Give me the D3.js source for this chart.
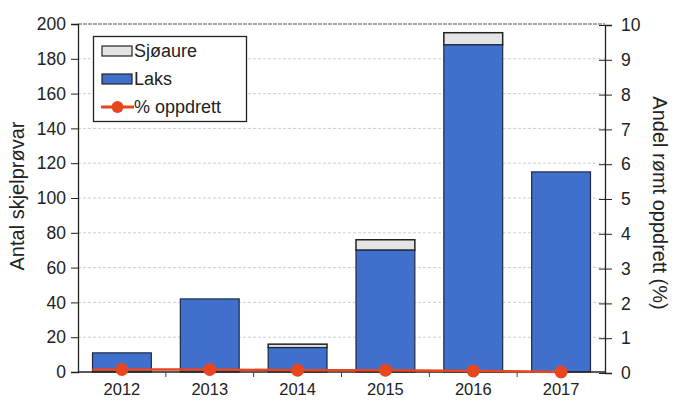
<!DOCTYPE html>
<html><head><meta charset="utf-8">
<script src="https://cdn.jsdelivr.net/npm/d3@7"></script>
<style>body{margin:0;background:#fff}svg{display:block;font-family:"Liberation Sans",Arial,sans-serif}</style>
</head><body><svg id="c" width="674" height="401"></svg>
<script>
const years = ["2012","2013","2014","2015","2016","2017"];
const laks = [11, 42, 14, 70, 188, 115];
const sjoaure = [0, 0, 2, 6, 7, 0];
const oppdrett = [0.1, 0.1, 0.08, 0.08, 0.06, 0.03];
const leftTicks = [0,20,40,60,80,100,120,140,160,180,200];
const rightTicks = [0,1,2,3,4,5,6,7,8,9,10];

const svg = d3.select("#c");
const m = {l:78, r:605, t:24, b:372};
const x = d3.scaleBand().domain(years).range([m.l, m.r]).paddingInner(0.33).paddingOuter(0.165);
const y = d3.scaleLinear().domain([0,200]).range([m.b, m.t]);
const y2 = d3.scaleLinear().domain([0,10]).range([m.b+1, m.t+1]);

// gridlines
svg.append("g").selectAll("line").data(leftTicks.filter(d=>d>0)).join("line")
  .attr("x1", m.l).attr("x2", m.r).attr("y1", d=>y(d)).attr("y2", d=>y(d))
  .attr("stroke", d=>d===200?"#555":"#cfcfcf").attr("stroke-width", 1)
  .attr("stroke-dasharray", d=>d===200?"4,1":"3,2");

// bars
const g = svg.append("g");
years.forEach((yr,i)=>{
  const total = laks[i] + sjoaure[i];
  if (sjoaure[i] > 0) {
    g.append("rect").attr("x", x(yr)).attr("width", x.bandwidth())
      .attr("y", y(total)).attr("height", y(laks[i]) - y(total))
      .attr("fill", "#e4e4e4").attr("stroke", "#222").attr("stroke-width", 1.5);
  }
  g.append("rect").attr("x", x(yr)).attr("width", x.bandwidth())
    .attr("y", y(laks[i])).attr("height", y(0) - y(laks[i]))
    .attr("fill", "#4070cc").attr("stroke", "#1f2a44").attr("stroke-width", 1.2);
});

// left axis
const la = svg.append("g").attr("transform", `translate(${m.l},0)`)
  .call(d3.axisLeft(y).tickValues(leftTicks).tickSize(7).tickPadding(5));
la.select(".domain").attr("stroke","#222").attr("stroke-width",1.3);
la.selectAll(".tick line").attr("stroke","#222");
la.selectAll("text").attr("font-size",17.5).attr("fill","#222").attr("font-family","Liberation Sans, Arial, sans-serif");

// right axis
const ra = svg.append("g").attr("transform", `translate(${m.r},0)`)
  .call(d3.axisRight(y2).tickValues(rightTicks).tickSize(7).tickPadding(9));
ra.select(".domain").attr("stroke","#222").attr("stroke-width",1.3);
ra.selectAll(".tick line").attr("stroke","#222").attr("x1",-6);
ra.selectAll("text").attr("font-size",17.5).attr("fill","#222").attr("font-family","Liberation Sans, Arial, sans-serif");

// bottom axis
const xb = svg.append("g").attr("transform", `translate(0,${m.b})`);
xb.append("line").attr("x1", m.l).attr("x2", m.r).attr("stroke","#222").attr("stroke-width",1.3);
years.slice(1).forEach(yr=>{
  const bx = x(yr) - x.step()*x.paddingInner()/2;
  xb.append("line").attr("x1",bx).attr("x2",bx).attr("y1",0).attr("y2",5).attr("stroke","#444");
});
xb.selectAll("text.yl").data(years).join("text").attr("class","yl")
  .attr("x", d=>x(d)+x.bandwidth()/2).attr("y", 23).attr("text-anchor","middle")
  .attr("font-size",16.5).attr("fill","#222").text(d=>d);

// line series
const red = "#e8461e";
const pts = years.map((yr,i)=>[x(yr)+x.bandwidth()/2, y2(oppdrett[i])]);
const linePts = [[x(years[0]), y2(oppdrett[0])], ...pts];
svg.append("path").attr("d", d3.line()(linePts)).attr("fill","none").attr("stroke",red).attr("stroke-width",2.5);
svg.append("g").selectAll("circle").data(pts).join("circle")
  .attr("cx", d=>d[0]).attr("cy", d=>d[1]).attr("r", 6.5).attr("fill", red);

// axis titles
svg.append("text").attr("transform","translate(24,196) rotate(-90)").attr("text-anchor","middle")
  .attr("font-size",20).attr("fill","#222").text("Antal skjelprøvar");
svg.append("text").attr("transform","translate(653,203) rotate(90)").attr("text-anchor","middle")
  .attr("font-size",20).attr("fill","#222").text("Andel rømt oppdrett (%)");

// legend
const lg = svg.append("g");
lg.append("rect").attr("x",93.5).attr("y",36.5).attr("width",153).attr("height",85)
  .attr("fill","#fff").attr("stroke","#222").attr("stroke-width",1.3);
const items = [{t:"Sjøaure",type:"rect",c:"#e4e4e4"},{t:"Laks",type:"rect",c:"#4070cc"},{t:"% oppdrett",type:"line",c:red}];
items.forEach((it,i)=>{
  const cy = 51 + i*28;
  if (it.type==="rect") {
    lg.append("rect").attr("x",102).attr("y",cy-5).attr("width",30).attr("height",10)
      .attr("fill",it.c).attr("stroke","#222").attr("stroke-width",1.2);
  } else {
    lg.append("line").attr("x1",101).attr("x2",134).attr("y1",cy).attr("y2",cy).attr("stroke",it.c).attr("stroke-width",3);
    lg.append("circle").attr("cx",117.5).attr("cy",cy).attr("r",6).attr("fill",it.c);
  }
  lg.append("text").attr("x",134).attr("y",cy+6).attr("font-size",18).attr("fill","#222").text(it.t);
});
</script></body></html>
